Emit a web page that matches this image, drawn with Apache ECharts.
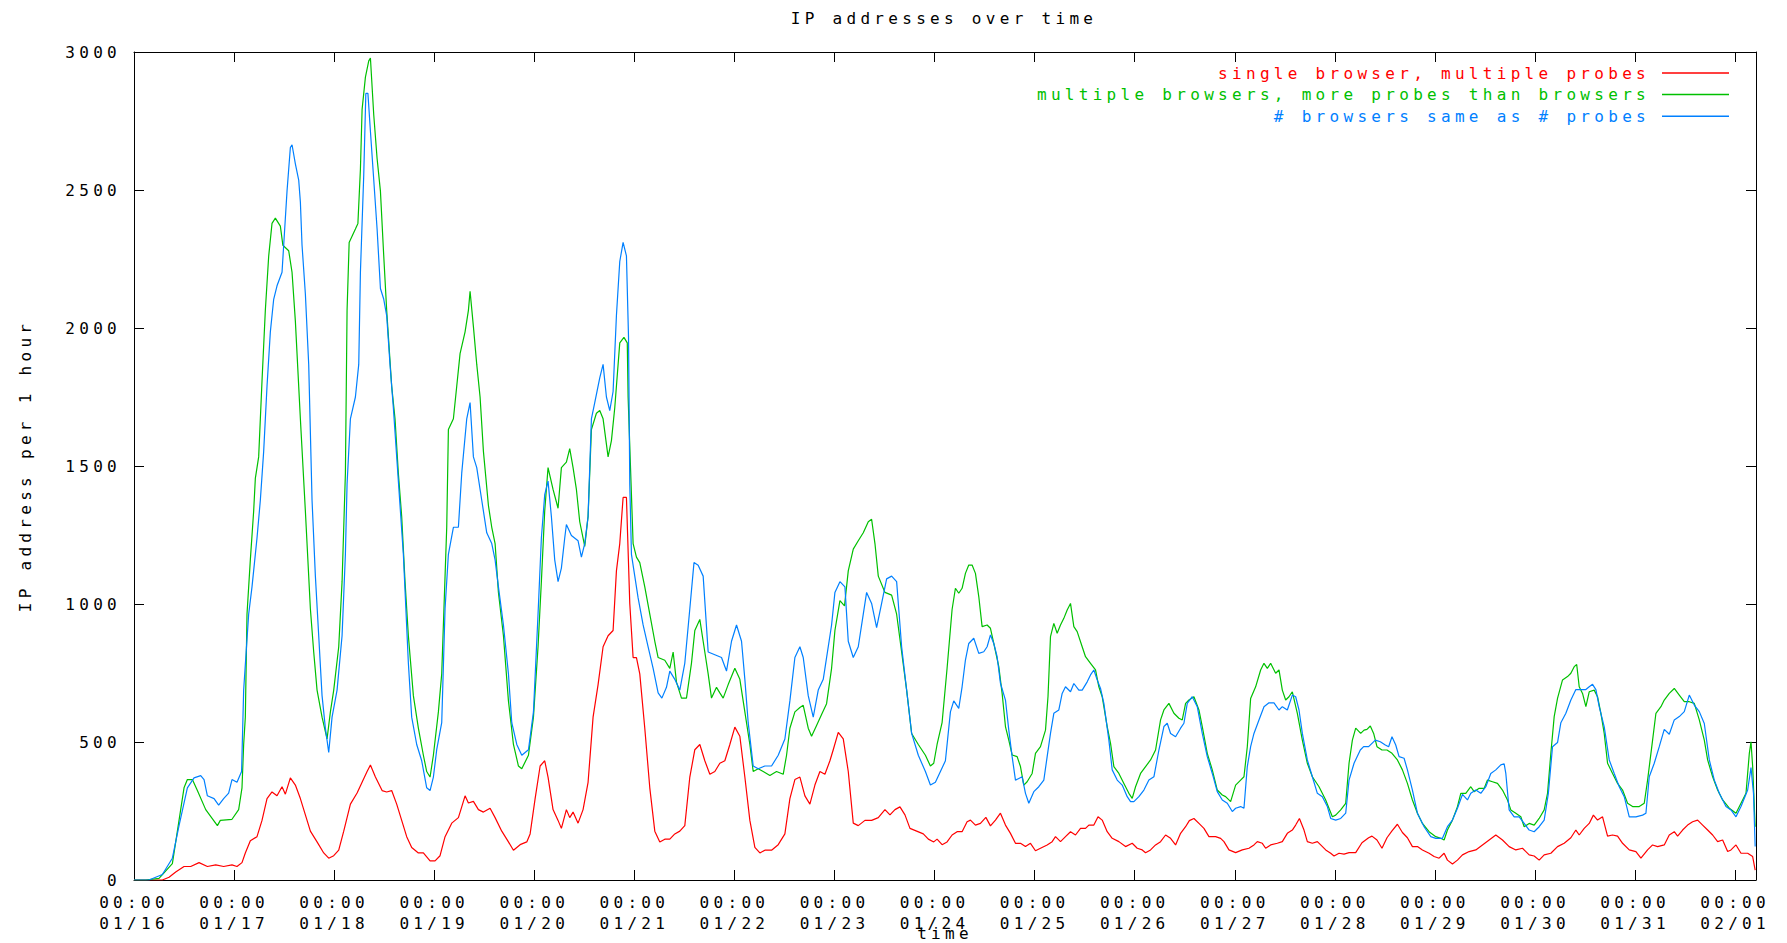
<!DOCTYPE html>
<html>
<head>
<meta charset="utf-8">
<script src="https://cdn.jsdelivr.net/npm/echarts@6/dist/echarts.min.js"></script>
<style>
  html, body { margin: 0; padding: 0; background: #ffffff; }
  #chart { width: 1787px; height: 943px; }
  #chart svg text { letter-spacing: 4.3px; }
</style>
</head>
<body>
<div id="chart"></div>
<script>
// ---- data: [hours since 01/16 00:00, IP addresses per hour] ----
const titleText = 'IP addresses over time';
const yAxisTitle = 'IP address per 1 hour';
const xAxisTitle = 'time';
const seriesNames = ['single browser, multiple probes', 'multiple browsers, more probes than browsers', '# browsers same as # probes'];
const seriesColors = ['#ff0000', '#00c000', '#0080ff'];
const yTicks = [0, 500, 1000, 1500, 2000, 2500, 3000];
const startMonth = 0, startDay = 16; // 01/16 00:00
const hoursMax = 389;

const singleBrowser = [[0,0],[6.8,0],[8.4,10],[10,29],[12,49],[13.6,49],[15.6,63],[17.6,49],[19.6,55],[21.5,49],[23.5,55],[24.7,49],[25.9,63],[26.7,98],[27.9,142],[29.5,157],[30.7,216],[31.9,295],[33.1,319],[34.3,305],[35.5,338],[36.3,311],[37.5,370],[38.7,344],[39.9,295],[41.1,236],[42.3,177],[43.9,138],[45.5,98],[46.7,79],[47.9,88],[49.1,108],[50.3,177],[51.9,275],[53.5,315],[54.7,354],[55.9,393],[56.7,417],[57.9,373],[59.5,324],[60.6,319],[61.8,324],[63,275],[64.2,216],[65.4,157],[66.6,118],[68.2,98],[69.4,98],[71,69],[72.2,69],[73.4,88],[74.6,157],[76.2,206],[77.8,226],[78.6,265],[79.4,305],[80.2,279],[81.4,285],[82.6,255],[83.8,246],[85.4,260],[86.6,226],[88.2,177],[89.8,138],[91,108],[92.6,128],[94.2,138],[95,167],[96.2,295],[97.4,413],[98.5,432],[99.3,373],[100.5,255],[101.7,216],[102.5,187],[103.7,255],[104.5,226],[105.3,246],[106.5,206],[107.7,255],[108.9,354],[110.1,590],[111.3,708],[112.5,845],[113.7,885],[114.9,904],[115.7,1120],[116.5,1219],[117.3,1386],[118.1,1386],[118.9,1002],[119.7,806],[120.5,806],[121.3,747],[122.5,550],[123.7,334],[124.9,177],[126.1,138],[127.3,148],[128.5,148],[129.7,167],[130.9,177],[132.1,197],[133.3,373],[134.5,472],[135.7,491],[136.9,432],[138.1,383],[139.3,393],[140.5,423],[141.7,432],[142.9,491],[144.1,554],[145.3,521],[146.5,373],[147.7,216],[148.9,118],[150.1,98],[151.3,108],[152.9,108],[154.5,128],[156.1,167],[157.3,295],[158.5,364],[159.7,373],[160.9,305],[162.1,275],[163.3,344],[164.5,393],[165.7,383],[166.9,432],[167.7,472],[168.9,535],[170.1,511],[171.3,393],[172.5,206],[173.7,197],[175.3,216],[176.9,216],[178.5,226],[180.1,255],[181.3,236],[182.5,255],[183.7,265],[184.9,236],[186.1,187],[187.7,177],[189.3,167],[190.5,148],[191.8,138],[192.6,148],[193.8,128],[195,138],[196.2,163],[197.4,175],[198.6,175],[199.8,211],[200.6,217],[201.8,199],[203,205],[204.3,227],[205.4,196],[206.6,217],[207.8,242],[209,199],[210.2,169],[211.4,133],[212.6,133],[213.8,121],[215,133],[216.2,106],[217.4,115],[219,127],[220.2,139],[221,157],[222.2,139],[223.4,157],[224.6,175],[225.8,163],[227,187],[228.2,187],[229,199],[230.2,199],[231.2,229],[232.2,217],[233.4,175],[234.6,151],[236.2,139],[237.8,121],[239.4,133],[240.6,115],[241.8,109],[242.6,99],[243.8,109],[245,127],[246.2,139],[247.4,163],[248.6,151],[249.8,127],[251,169],[252.2,193],[253.1,215],[254.2,223],[255.4,205],[256.6,187],[257.8,157],[259.4,157],[260.6,151],[261.4,139],[262.6,109],[264.2,99],[265.8,109],[267.4,115],[268.6,127],[269.4,139],[270.6,133],[271.4,115],[272.6,127],[274.2,133],[275.4,139],[276.6,169],[277.8,181],[278.6,199],[279.5,223],[280.6,181],[281.4,139],[282.6,133],[283.8,139],[284.6,127],[285.8,109],[287,97],[287.8,87],[289,97],[290.2,94],[291.4,99],[293,99],[294.5,135],[296.1,153],[296.9,159],[298.1,145],[299.3,115],[300.5,153],[301.7,178],[303,202],[304.2,172],[305.4,153],[306.6,121],[307.8,121],[309,109],[310.6,97],[311.8,85],[313,79],[314.2,97],[315,72],[316.2,58],[317.4,72],[318.6,91],[320.2,103],[321.8,109],[323.4,127],[325,145],[326.6,163],[328.2,145],[329.8,121],[331.4,109],[333,115],[334.6,91],[335.8,87],[337,72],[338.2,91],[339.8,97],[341.4,121],[343,133],[344.6,153],[345.8,181],[346.6,163],[347.8,187],[349,205],[350,235],[351,217],[352.2,229],[353.4,159],[354.6,163],[355.8,159],[357,133],[358.6,109],[360.2,103],[361.4,79],[363,109],[364.2,127],[365.4,121],[367,127],[368.2,163],[369.4,175],[370.2,159],[371.4,181],[372.6,199],[373.8,211],[375,217],[376.2,199],[377.4,181],[378.6,163],[379.8,139],[381,145],[382.2,103],[383,109],[384.2,127],[385.4,97],[387,97],[388.2,85],[388.8,36]];

const multiBrowsers = [[0,0],[2.8,0],[6,6],[9.2,59],[10.8,216],[12,334],[12.8,364],[14,364],[15.2,324],[17.2,255],[20,197],[20.7,216],[23.5,220],[25.1,255],[25.9,334],[26.3,491],[26.7,590],[27.1,963],[27.9,1160],[28.7,1337],[29.1,1455],[29.9,1533],[30.7,1808],[31.5,2064],[32.3,2260],[33.1,2379],[33.9,2398],[35.1,2369],[35.7,2300],[37.1,2280],[37.9,2202],[38.7,2025],[39.9,1671],[41.1,1337],[42.3,983],[43.1,826],[43.9,688],[45.1,590],[46.3,511],[47.1,609],[47.9,688],[49.1,845],[49.9,1081],[50.7,1474],[51.1,2064],[51.6,2310],[53.1,2359],[53.7,2379],[54.3,2575],[54.7,2791],[55.5,2909],[56.3,2968],[56.7,2978],[57.5,2772],[58.3,2614],[59.1,2496],[59.9,2260],[60.6,2064],[61.8,1789],[62.6,1671],[63.4,1474],[64.2,1317],[65,1081],[65.8,885],[67,668],[68.2,550],[69.4,452],[70.2,393],[71,373],[71.8,452],[73,609],[73.8,747],[74.6,1101],[75,1278],[75.4,1632],[76.6,1671],[77.4,1789],[78.2,1907],[79.4,1986],[80.2,2064],[80.6,2133],[81.4,2005],[82.2,1868],[83,1750],[83.8,1553],[85,1357],[85.8,1278],[86.6,1219],[87.4,1042],[88.6,885],[89.8,649],[91,491],[92.2,413],[93,403],[94.6,452],[95.8,590],[96.9,845],[97.7,1081],[98.5,1337],[99.3,1494],[100.5,1415],[101.7,1347],[102.5,1494],[103.7,1514],[104.5,1563],[105.3,1494],[106.1,1415],[106.9,1298],[108.1,1209],[108.9,1317],[109.7,1632],[110.9,1691],[111.7,1701],[112.5,1671],[113.7,1533],[114.5,1592],[115.3,1711],[116.5,1946],[117.5,1966],[118.3,1946],[118.5,1750],[119.7,1219],[120.5,1170],[121.3,1150],[122.5,1062],[123.7,963],[124.9,865],[125.7,806],[127.3,796],[128.5,767],[129.3,826],[130.1,717],[131.3,659],[132.5,659],[133.7,786],[134.5,904],[135.7,944],[136.5,865],[137.7,747],[138.5,659],[139.7,698],[140.5,678],[141.3,659],[142.5,708],[144.1,767],[145.3,727],[146.5,609],[147.7,491],[148.5,393],[149.7,403],[150.9,393],[152.5,379],[154.1,393],[155.7,383],[156.5,452],[157.3,550],[158.5,609],[159.7,625],[160.5,633],[161.7,550],[162.5,521],[163.7,560],[164.9,600],[166.1,639],[167.3,767],[168.1,904],[169.3,1012],[170.4,993],[171.3,1120],[172.5,1199],[173.7,1229],[174.9,1258],[176.1,1298],[176.9,1307],[177.7,1219],[178.5,1101],[180.1,1042],[181.7,1032],[182.9,963],[184.1,826],[185.3,688],[186.5,531],[188.1,491],[189.8,452],[191,413],[191.8,423],[192.6,491],[193.8,570],[195,767],[196.2,980],[197,1057],[197.8,1039],[198.6,1057],[199.4,1111],[200.2,1141],[201,1141],[201.8,1111],[202.6,1027],[203.4,918],[204.6,924],[205.4,912],[206.2,857],[207.4,773],[208.2,676],[209,556],[209.8,507],[210.6,453],[211.8,447],[212.6,411],[213.4,344],[214.2,356],[215.4,386],[216.2,459],[217.4,483],[218.6,543],[219.2,664],[219.8,882],[220.6,930],[221.4,894],[222.2,924],[223,948],[223.8,978],[224.6,1002],[225.4,918],[226.2,900],[227.4,845],[228.2,809],[229.4,785],[230.6,761],[231.4,700],[232.2,664],[233.4,556],[234.2,495],[235,411],[236.2,386],[237.4,350],[238.6,314],[239.4,296],[240.2,338],[241.4,386],[242.6,411],[243.8,435],[245,471],[246.2,580],[247,616],[248.2,640],[249.4,604],[250.6,586],[251.4,580],[252.2,640],[253,652],[254.2,664],[255.4,616],[256.2,556],[257.4,459],[258.6,399],[259.8,326],[261,308],[261.8,302],[263,284],[264.2,344],[265.4,362],[266.2,374],[267,483],[267.8,658],[269,700],[270.2,761],[271,785],[271.8,767],[272.6,785],[273.8,749],[274.6,761],[275.4,688],[276.2,652],[277,664],[277.8,682],[279,604],[280.2,507],[281.4,423],[282.6,374],[284.2,338],[285.8,290],[287.4,229],[288.2,235],[289.4,254],[290.6,278],[291.4,423],[292.2,507],[293,550],[294.2,531],[295,543],[295.7,546],[296.5,558],[297.3,531],[298.1,483],[299.3,471],[300.5,471],[301.7,459],[303,435],[304.2,399],[305.4,350],[306.6,290],[307.8,242],[309,205],[310.6,175],[312.2,157],[313.4,151],[314.2,145],[315,181],[316.2,217],[317.4,266],[318.2,314],[319.4,314],[320.6,338],[321.4,320],[322.6,332],[323.8,332],[324.6,362],[325.8,356],[327,350],[328.2,326],[329.4,290],[330.2,254],[331.4,242],[332.6,229],[333.4,193],[334.6,205],[335.8,199],[337,223],[338.2,254],[339,314],[339.8,459],[340.6,592],[341.4,658],[342.6,725],[343.8,737],[344.6,749],[345.4,773],[346,781],[346.6,700],[347.4,676],[348.2,628],[349,682],[350.2,688],[351,664],[351.8,604],[352.6,531],[353.4,423],[354.6,386],[355.8,350],[357,326],[358.2,278],[359.4,266],[361,266],[362.2,278],[363,362],[364.2,507],[365,604],[366.2,628],[367,652],[368.2,676],[369.4,694],[370.6,670],[371.8,646],[373,646],[374.2,640],[375.4,580],[376.6,507],[377.4,435],[378.6,374],[379.8,326],[381,290],[382.6,260],[384.2,242],[385.4,278],[386.6,314],[387.4,459],[387.8,501],[388.2,411],[388.8,193]];

const sameBrowsers = [[0,0],[3.6,0],[6.8,20],[9.2,79],[10.8,197],[12.8,334],[14.4,370],[16,378],[16.8,364],[17.6,305],[19.2,295],[20.3,271],[21.5,295],[22.7,315],[23.5,364],[24.7,354],[25.8,393],[26.3,688],[26.9,826],[27.5,963],[28.3,1062],[29.5,1239],[30.3,1376],[31.1,1553],[31.9,1789],[32.7,1986],[33.5,2104],[34.3,2153],[35.5,2202],[35.9,2300],[36.7,2496],[37.5,2654],[37.9,2664],[38.7,2595],[39.5,2536],[39.9,2457],[40.3,2300],[41.1,2123],[41.9,1868],[42.7,1376],[43.5,1101],[44.3,885],[45.1,668],[45.9,550],[46.7,462],[47.5,590],[48.7,688],[49.9,885],[50.7,1180],[51.1,1435],[51.9,1671],[53.1,1750],[53.9,1868],[54.3,2202],[55.1,2555],[55.6,2850],[56.1,2850],[56.7,2713],[57.5,2536],[58.3,2359],[59.1,2143],[59.9,2104],[60.6,2045],[61.4,1868],[62.2,1711],[63,1534],[63.8,1357],[64.6,1180],[65.8,786],[66.6,590],[67.8,491],[69,432],[70.2,334],[71,324],[71.8,373],[72.6,472],[73.8,570],[74.6,983],[75.4,1180],[76.6,1278],[77.8,1278],[78.6,1474],[79.8,1671],[80.6,1730],[81.4,1533],[82.2,1494],[83.4,1376],[84.6,1258],[85.8,1219],[86.6,1160],[87.4,1062],[88.6,924],[89.8,747],[90.6,570],[91.8,491],[93,452],[94.6,472],[95.8,609],[96.9,963],[97.7,1239],[98.5,1396],[99.3,1445],[100.1,1317],[100.9,1160],[101.7,1081],[102.5,1130],[103.3,1239],[103.7,1288],[104.9,1248],[106.5,1229],[107.3,1170],[108.1,1219],[108.9,1317],[109.7,1671],[110.5,1730],[111.7,1819],[112.5,1868],[113.3,1750],[114.1,1701],[114.9,1770],[115.7,2045],[116.5,2241],[117.3,2310],[118.1,2261],[118.6,1966],[118.9,1435],[119.3,1180],[120.1,1101],[120.9,1022],[122.1,924],[123.3,845],[124.5,767],[125.7,678],[126.6,659],[127.7,698],[128.5,757],[129.7,727],[130.9,688],[132.1,786],[133.3,983],[134.3,1150],[135.3,1140],[136.5,1101],[137.7,826],[139.3,816],[140.9,806],[142.1,757],[143.3,865],[144.5,924],[145.7,865],[146.5,727],[147.3,570],[148.5,413],[149.7,403],[151.3,413],[152.9,413],[154.5,452],[156.1,511],[157.3,649],[158.5,806],[159.7,845],[160.5,806],[161.7,668],[162.9,590],[164.1,688],[165.3,727],[166.1,806],[167.3,924],[168.1,1042],[169.3,1081],[170.5,1062],[171.3,865],[172.5,806],[173.7,845],[174.9,963],[175.7,1042],[176.9,1002],[178.1,914],[179.3,1002],[180.5,1091],[181.7,1101],[182.9,1081],[184.1,845],[185.3,688],[186.5,531],[188.1,452],[189.8,393],[191,344],[192.2,354],[193.4,393],[194.6,432],[195.8,609],[196.6,649],[197.8,622],[198.6,700],[199.4,797],[200.2,857],[201.4,876],[202.6,821],[203.8,827],[204.6,845],[205.4,888],[206.2,857],[207,809],[207.8,713],[209,652],[209.8,543],[210.6,447],[211.4,362],[212.2,368],[213,374],[213.8,314],[214.6,278],[215.8,320],[217,338],[218.2,362],[219,447],[219.8,531],[220.6,604],[221.8,616],[222.6,676],[223.4,700],[224.6,682],[225.4,712],[226.6,688],[227.4,688],[228.6,718],[229.4,743],[230.2,761],[231,725],[231.8,694],[232.6,640],[233.8,507],[234.6,399],[235.8,362],[237,344],[238.2,302],[239,284],[239.8,284],[241,302],[242.2,326],[243.4,362],[244.6,374],[245.8,471],[247,556],[247.8,568],[248.6,531],[249.8,519],[251,550],[251.8,568],[252.6,640],[253.8,664],[255,628],[256.2,531],[257.4,447],[258.6,386],[259.8,320],[261,290],[262.2,278],[263.4,248],[264.2,260],[265.4,266],[266.2,260],[267,411],[267.8,483],[268.6,531],[269.8,580],[271,628],[272.2,642],[273.4,642],[274.6,616],[275.4,628],[276.6,616],[277.8,670],[278.6,664],[279.4,616],[280.2,531],[281.4,435],[282.6,374],[283.8,314],[285,302],[286.2,266],[287,223],[288.2,217],[289.4,223],[290.6,242],[291.4,362],[292.6,423],[294.1,471],[294.9,483],[296.1,483],[297.7,507],[298.9,501],[300.1,489],[300.9,483],[301.7,519],[302.6,489],[303.4,447],[304.6,441],[305.4,399],[306.6,326],[307.8,242],[309.4,193],[311,157],[312.2,151],[313.8,151],[315,193],[316.2,217],[317.4,260],[318.6,310],[319.8,290],[320.6,314],[321.8,326],[323,314],[324.2,338],[325.4,386],[326.6,399],[327.8,417],[328.6,421],[329,386],[329.8,254],[331,229],[332.2,229],[333.4,205],[334.6,181],[335.8,175],[337,193],[338.2,217],[339.2,314],[340.2,483],[341.4,498],[342.2,570],[343.4,604],[344.6,652],[345.8,690],[347,690],[348.2,690],[349,700],[349.8,709],[350.6,690],[351.4,628],[352.6,555],[353.8,435],[355,386],[356.2,338],[357.4,302],[358.6,229],[360.2,229],[361.8,235],[362.6,242],[363.4,374],[364.6,423],[365.8,483],[367,546],[368.2,528],[369.4,580],[370.6,592],[371.8,610],[373,670],[374.2,634],[375.4,610],[376.6,567],[377.8,435],[379,362],[380.2,314],[381.8,266],[383,254],[384.2,229],[385.4,266],[387,326],[387.8,407],[388.4,314],[388.8,121]];

const seriesData = [singleBrowser, multiBrowsers, sameBrowsers];

// ---- rendering ----
const FONT = 'DejaVu Sans Mono';
const pad2 = n => (n < 10 ? '0' : '') + n;
function timeLabel(h) {
  if (Math.abs(h % 24) > 1e-6) return '';
  const d = new Date(Date.UTC(2007, startMonth, startDay) + h * 3600000);
  return pad2(d.getUTCHours()) + ':' + pad2(d.getUTCMinutes()) + '\n' +
         pad2(d.getUTCMonth() + 1) + '/' + pad2(d.getUTCDate());
}

const axisLineStyle = { color: '#000000', width: 1 };
const textBase = { fontFamily: FONT, fontSize: 16, color: '#000000' };

const chart = echarts.init(document.getElementById('chart'), null, { renderer: 'svg' });
chart.setOption({
  animation: false,
  backgroundColor: '#ffffff',
  textStyle: { fontFamily: FONT },
  graphic: [{
    type: 'text', x: 944, y: 18, silent: true,
    style: { text: titleText, fontFamily: FONT, fontSize: 16, fill: '#000000',
             align: 'center', verticalAlign: 'middle', textAlign: 'center', textVerticalAlign: 'middle' }
  }],
  grid: { left: 134, right: 31, top: 52, bottom: 63, containLabel: false, outerBoundsMode: 'none' },
  legend: {
    orient: 'vertical', right: 58, top: 65, align: 'right', padding: 0,
    icon: 'rect', itemWidth: 67, itemHeight: 1.5, itemGap: 5.6,
    textStyle: { fontFamily: FONT, fontSize: 16, padding: [0, 7, 0, 0] },
    data: seriesNames.map((n, i) => ({ name: n, textStyle: { color: seriesColors[i] } }))
  },
  xAxis: [{
    type: 'value', min: 0, max: hoursMax, interval: 24, position: 'bottom',
    name: xAxisTitle, nameLocation: 'middle', nameGap: 45, nameMoveOverlap: false, nameTextStyle: textBase,
    axisLine: { show: true, onZero: false, lineStyle: axisLineStyle },
    axisTick: { show: true, inside: true, length: 10, lineStyle: axisLineStyle },
    axisLabel: { show: true, margin: 12, showMaxLabel: false, lineHeight: 21,
                 fontFamily: FONT, fontSize: 16, color: '#000000', formatter: timeLabel },
    splitLine: { show: false }
  }, {
    type: 'value', min: 0, max: hoursMax, interval: 24, position: 'top',
    axisLine: { show: true, onZero: false, lineStyle: axisLineStyle },
    axisTick: { show: true, inside: true, length: 10, lineStyle: axisLineStyle },
    axisLabel: { show: false }, splitLine: { show: false }
  }],
  yAxis: [{
    type: 'value', min: yTicks[0], max: yTicks[yTicks.length - 1], interval: 500, position: 'left',
    name: yAxisTitle, nameLocation: 'middle', nameGap: 101, nameRotate: 90, nameMoveOverlap: false, nameTextStyle: textBase,
    axisLine: { show: true, onZero: false, lineStyle: axisLineStyle },
    axisTick: { show: true, inside: true, length: 10, lineStyle: axisLineStyle },
    axisLabel: { show: true, margin: 13, fontFamily: FONT, fontSize: 16, color: '#000000',
                 formatter: v => String(v) },
    splitLine: { show: false }
  }, {
    type: 'value', min: yTicks[0], max: yTicks[yTicks.length - 1], interval: 500, position: 'right',
    axisLine: { show: true, onZero: false, lineStyle: axisLineStyle },
    axisTick: { show: true, inside: true, length: 10, lineStyle: axisLineStyle },
    axisLabel: { show: false }, splitLine: { show: false }
  }],
  series: seriesNames.map((n, i) => ({
    name: n, type: 'line', xAxisIndex: 0, yAxisIndex: 0,
    data: seriesData[i], symbol: 'none', showSymbol: false, smooth: false,
    color: seriesColors[i],
    lineStyle: { color: seriesColors[i], width: 1.2 },
    emphasis: { disabled: true }
  }))
});
</script>
</body>
</html>
